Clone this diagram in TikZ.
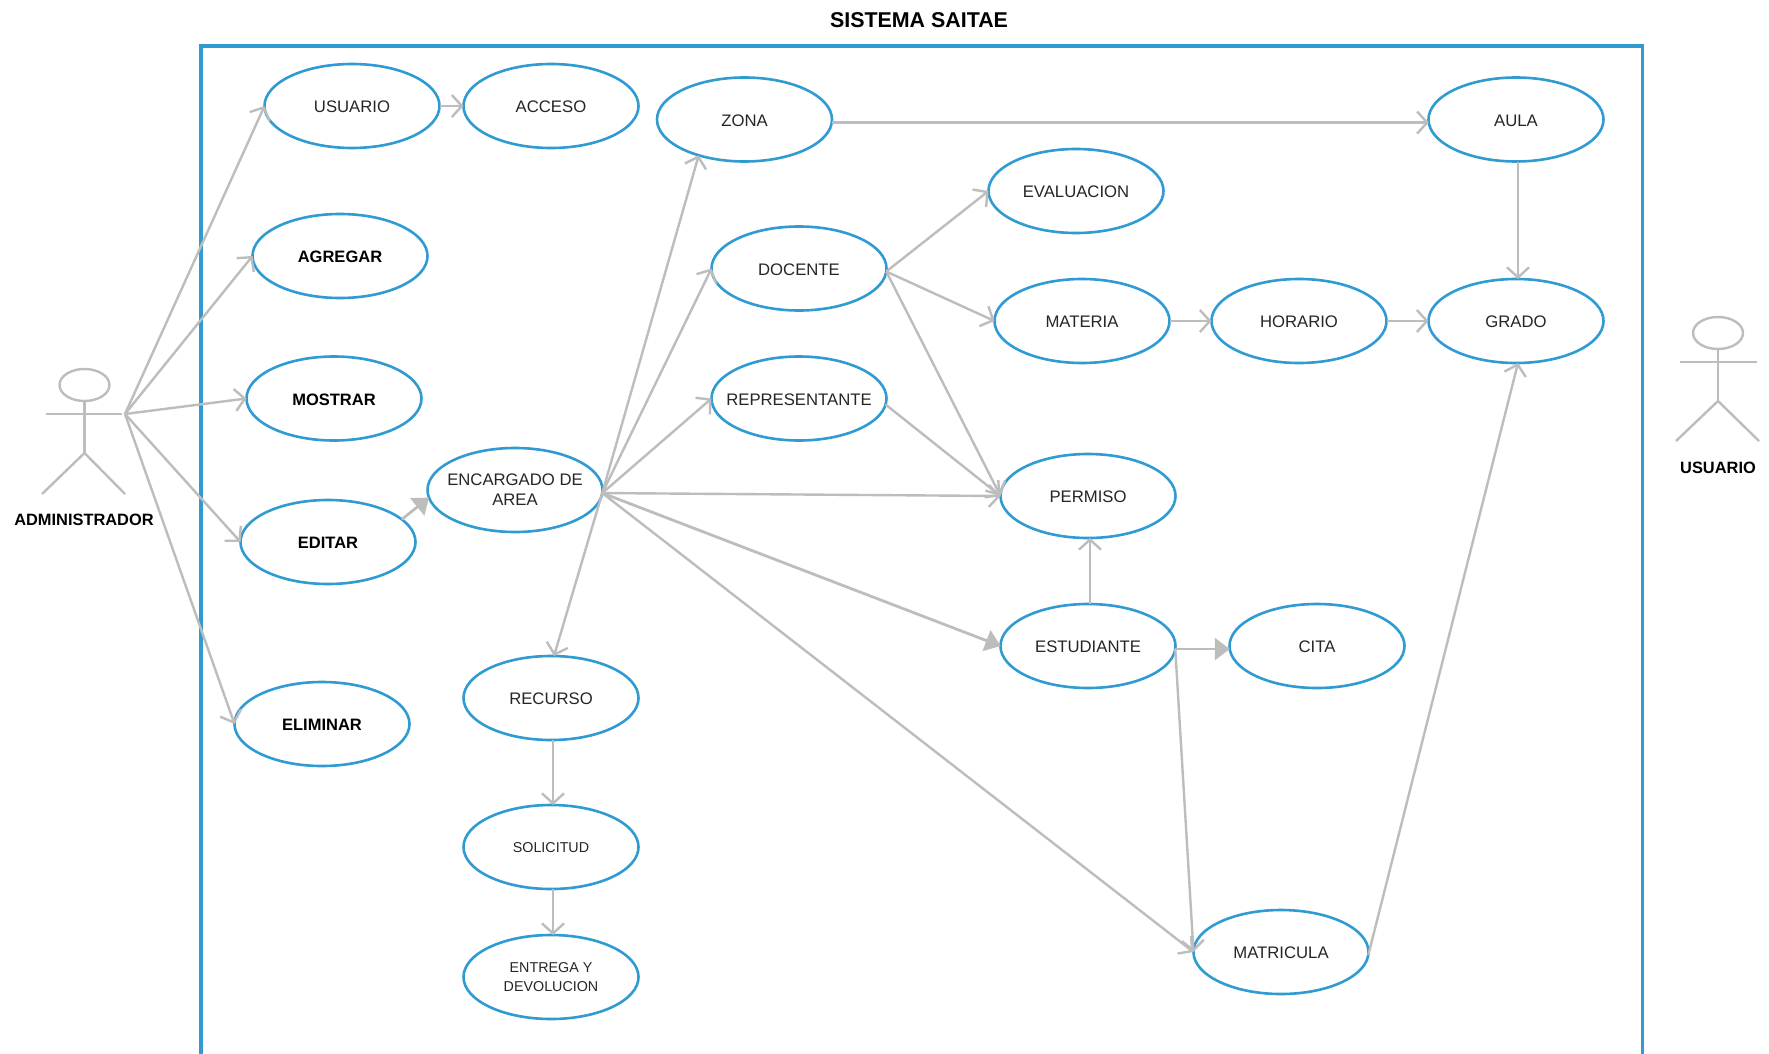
\documentclass[tikz,border=0pt]{standalone}
\usepackage{fontspec}
\setmainfont{Liberation Sans}
\usetikzlibrary{shapes.geometric,arrows.meta}
\definecolor{ucblue}{HTML}{2F9BD2}
\definecolor{ucgray}{HTML}{BDBDBD}
\definecolor{uctext}{HTML}{262626}
\tikzset{
  x=1pt,y=-1pt,
  usecase/.style={ellipse,draw=ucblue,line width=2.6pt,fill=white,minimum width=175pt,minimum height=84pt,inner xsep=-30pt,inner ysep=0pt,outer sep=0pt,align=center,text=uctext,font=\fontsize{16.7}{20}\selectfont,execute at begin node={\rule{0pt}{\dimexpr.716em+1.5pt\relax}}},
  twoline/.style={execute at begin node={\rule{0pt}{\dimexpr.716em+4pt\relax}}},
  boldcase/.style={usecase,text=black,font=\fontsize{16.5}{20}\selectfont\bfseries},
  smallcase/.style={usecase,font=\fontsize{14.3}{19}\selectfont},
  actorpart/.style={draw=ucgray,line width=2.4pt},
  actorhead/.style={ellipse,draw=ucgray,line width=2.4pt,minimum width=50pt,minimum height=32pt,inner sep=0pt,outer sep=0pt},
  actorlabel/.style={text=black,font=\fontsize{16.4}{20}\selectfont\bfseries,inner sep=0pt},
  frameline/.style={draw=ucblue,line width=3.2pt},
  link/.style={draw=ucgray,line width=2.4pt,-{Straight Barb[length=10pt,width=22pt,line width=2.4pt]}},
  solidlink/.style={draw=ucgray,line width=2.8pt,-{Triangle[length=15pt,width=22pt]}},
}
\begin{document}
\begin{tikzpicture}
\useasboundingbox (0,0) rectangle (1769,1054);
\fill[white] (0,0) rectangle (1769,1054);
\node[font=\fontsize{21.4}{26}\selectfont\bfseries,inner sep=0pt] (title) at (919,20.5) {SISTEMA SAITAE};
\draw[frameline] (201,1056) -- (201,46) -- (1642.5,46) -- (1642.5,1056);

\node[usecase] (usuario) at (352,106) {USUARIO};
\node[usecase] (acceso) at (551,106) {ACCESO};
\node[usecase] (zona) at (744.5,119.5) {ZONA};
\node[usecase] (aula) at (1516,119.5) {AULA};
\node[usecase] (evaluacion) at (1076,191) {EVALUACION};
\node[boldcase] (agregar) at (340,256) {AGREGAR};
\node[usecase] (docente) at (799,268.5) {DOCENTE};
\node[usecase] (materia) at (1082,321) {MATERIA};
\node[usecase] (horario) at (1299,321) {HORARIO};
\node[usecase] (grado) at (1516,321) {GRADO};
\node[boldcase] (mostrar) at (334,398.5) {MOSTRAR};
\node[usecase] (representante) at (799,398.5) {REPRESENTANTE};
\node[usecase,twoline] (encargado) at (515,490) {ENCARGADO DE\\AREA};
\node[usecase] (permiso) at (1088,496) {PERMISO};
\node[boldcase] (editar) at (328,542) {EDITAR};
\node[usecase] (estudiante) at (1088,646) {ESTUDIANTE};
\node[usecase] (cita) at (1317,646) {CITA};
\node[usecase] (recurso) at (551,698) {RECURSO};
\node[boldcase] (eliminar) at (322,724) {ELIMINAR};
\node[smallcase] (solicitud) at (551,847) {SOLICITUD};
\node[smallcase,twoline] (entrega) at (551,977) {ENTREGA Y\\DEVOLUCION};
\node[usecase] (matricula) at (1281,952) {MATRICULA};

% actors
\node[actorhead] (adminhead) at (84.5,385) {};
\coordinate (adminhip) at (84.5,453);
\coordinate (adminarml) at (46,414);
\coordinate (adminarmr) at (122,414);
\coordinate (adminlegl) at (42,494);
\coordinate (adminlegr) at (125,494);
\coordinate (adminhub) at (125,414);
\draw[actorpart] (adminhead.south) -- (adminhip);
\draw[actorpart] (adminarml) -- (adminarmr);
\draw[actorpart] (adminlegl) -- (adminhip) -- (adminlegr);
\node[actorlabel] (adminlabel) at (84,520) {ADMINISTRADOR};

\node[actorhead] (userhead) at (1718,333) {};
\coordinate (userhip) at (1718,401);
\coordinate (userarml) at (1680,362);
\coordinate (userarmr) at (1757,362);
\coordinate (userlegl) at (1676,441);
\coordinate (userlegr) at (1759,441);
\draw[actorpart] (userhead.south) -- (userhip);
\draw[actorpart] (userarml) -- (userarmr);
\draw[actorpart] (userlegl) -- (userhip) -- (userlegr);
\node[actorlabel] (userlabel) at (1718,468) {USUARIO};

% hubs
\coordinate (enchub) at (encargado.358);
\coordinate (dochub) at (docente.358);

% connectors
\draw[link] (adminhub) -- (usuario.west);
\draw[link] (adminhub) -- (agregar.west);
\draw[link] (adminhub) -- (mostrar.west);
\draw[link] (adminhub) -- (editar.west);
\draw[link] (adminhub) -- (eliminar.west);
\draw[solidlink] (editar.17) -- (encargado.185);
\draw[link] (usuario.east) -- (acceso.west);
\draw[link] (enchub) -- (zona.218);
\draw[link] (enchub) -- (docente.west);
\draw[link] (enchub) -- (representante.west);
\draw[link] (enchub) -- (permiso.west);
\draw[solidlink] (enchub) -- (estudiante.west);
\draw[link] (enchub) -- (matricula.west);
\draw[link] (enchub) -- ([xshift=3pt]recurso.north);
\draw[link] (zona.358) -- (aula.182);
\draw[link] ([xshift=2pt]aula.south) -- ([xshift=2pt]grado.north);
\draw[link] (dochub) -- (evaluacion.west);
\draw[link] (dochub) -- (materia.west);
\draw[link] (dochub) -- (permiso.west);
\draw[link] (representante.356) -- (permiso.west);
\draw[link] (materia.east) -- (horario.west);
\draw[link] (horario.east) -- (grado.west);
\draw[link] ([xshift=2pt]estudiante.north) -- ([xshift=2pt]permiso.south);
\draw[solidlink] (estudiante.358) -- (cita.182);
\draw[link] (estudiante.358) -- (matricula.west);
\draw[link] (matricula.358) -- ([xshift=2pt]grado.south);
\draw[link] ([xshift=2pt]recurso.south) -- ([xshift=2pt]solicitud.north);
\draw[link] ([xshift=2pt]solicitud.south) -- ([xshift=2pt]entrega.north);
\end{tikzpicture}
\end{document}
